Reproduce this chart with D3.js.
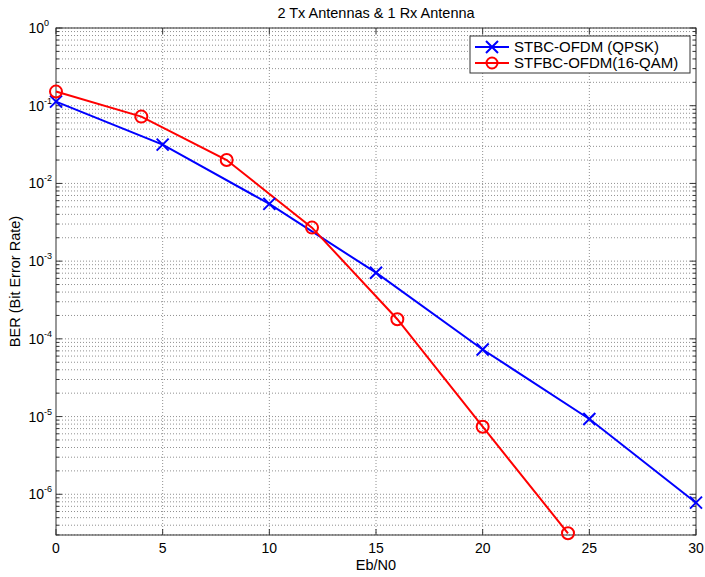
<!DOCTYPE html>
<html><head><meta charset="utf-8">
<script src="https://cdn.jsdelivr.net/npm/d3@7"></script>
<style>body{margin:0;background:#fff;} text{font-family:Arial,"Liberation Sans",sans-serif;}</style>
</head><body>
<svg id="chart" width="705" height="577"></svg>
<script>
const title = "2 Tx Antennas & 1 Rx Antenna";
const xLabel = "Eb/N0";
const yLabel = "BER (Bit Error Rate)";
const qpskX = [0, 5, 10, 15, 20, 25, 30];
const qpskY = [0.113, 0.0316, 0.00545, 7.1e-4, 7.3e-5, 9.3e-6, 7.8e-7];
const qamX = [0, 4, 8, 12, 16, 20, 24];
const qamY = [0.152, 0.0724, 0.0200, 0.0027, 1.79e-4, 7.4e-6, 3.15e-7];
const xTicks = [0, 5, 10, 15, 20, 25, 30];
const yExponents = [0, -1, -2, -3, -4, -5, -6];
const seriesNames = ["STBC-OFDM (QPSK)", "STFBC-OFDM(16-QAM)"];

const svg = d3.select("#chart");
const L = 56, R = 696, T = 28, B = 535;
const x = d3.scaleLinear().domain([0, 30]).range([L, R]);
const yMin = Math.pow(10, -6.524);
const y = d3.scaleLog().domain([yMin, 1]).range([B, T]);

const minors = [];
for (let e = -7; e <= 0; e++) for (let m = 1; m <= 9; m++) {
  const v = m * Math.pow(10, e);
  if (v >= yMin && v <= 1) minors.push({v, major: m === 1});
}
const g = svg.append("g");
g.selectAll(".hg").data(minors).join("line")
  .attr("x1", L).attr("x2", R).attr("y1", d => y(d.v)).attr("y2", d => y(d.v))
  .attr("stroke", "#909090").attr("stroke-width", 1).attr("stroke-dasharray", "1,2");
g.selectAll(".vg").data(xTicks.slice(1, -1)).join("line")
  .attr("x1", d => x(d)).attr("x2", d => x(d)).attr("y1", T).attr("y2", B)
  .attr("stroke", "#909090").attr("stroke-width", 1).attr("stroke-dasharray", "1,2");

svg.append("rect").attr("x", L).attr("y", T).attr("width", R - L).attr("height", B - T)
  .attr("fill", "none").attr("stroke", "#333").attr("stroke-width", 1);

const tk = svg.append("g").attr("stroke", "#333").attr("stroke-width", 1);
minors.forEach(d => {
  const len = d.major ? 6 : 3;
  const yy = y(d.v);
  tk.append("line").attr("x1", L).attr("x2", L + len).attr("y1", yy).attr("y2", yy);
  tk.append("line").attr("x1", R).attr("x2", R - len).attr("y1", yy).attr("y2", yy);
});
xTicks.forEach(d => {
  tk.append("line").attr("x1", x(d)).attr("x2", x(d)).attr("y1", B).attr("y2", B - 6);
  tk.append("line").attr("x1", x(d)).attr("x2", x(d)).attr("y1", T).attr("y2", T + 6);
});

svg.append("g").selectAll("text").data(xTicks).join("text")
  .attr("x", d => x(d)).attr("y", B + 18).attr("text-anchor", "middle")
  .attr("font-size", 14).attr("fill", "#000").text(d => d);

const yl = svg.append("g").selectAll("g").data(yExponents).join("g")
  .attr("transform", d => `translate(${L - 12},${y(Math.pow(10, d)) + 5})`);
yl.append("text").attr("text-anchor", "end").attr("font-size", 14).attr("fill", "#000").text("10");
yl.append("text").attr("x", 0).attr("y", -7).attr("font-size", 9).attr("fill", "#000").text(d => d);

svg.append("text").attr("x", (L + R) / 2).attr("y", 18).attr("text-anchor", "middle")
  .attr("font-size", 14.5).text(title);
svg.append("text").attr("x", (L + R) / 2).attr("y", 570).attr("text-anchor", "middle")
  .attr("font-size", 14.5).text(xLabel);
svg.append("text").attr("transform", `translate(20,${(T + B) / 2}) rotate(-90)`)
  .attr("text-anchor", "middle").attr("font-size", 14.5).text(yLabel);

const line = d3.line().x(d => x(d[0])).y(d => y(d[1]));
const qpsk = qpskX.map((v, i) => [v, qpskY[i]]);
const qam = qamX.map((v, i) => [v, qamY[i]]);
const blue = "#0000ff", red = "#ff0000";

svg.append("path").datum(qpsk).attr("d", line).attr("fill", "none").attr("stroke", blue).attr("stroke-width", 2);
svg.append("path").datum(qam).attr("d", line).attr("fill", "none").attr("stroke", red).attr("stroke-width", 2);

function cross(sel, cx, cy, s, col) {
  sel.append("path").attr("d", `M${cx - s},${cy - s}L${cx + s},${cy + s}M${cx - s},${cy + s}L${cx + s},${cy - s}`)
    .attr("stroke", col).attr("stroke-width", 2).attr("fill", "none");
}
const mk = svg.append("g");
qpsk.forEach(d => cross(mk, x(d[0]), y(d[1]), 6, blue));
qam.forEach(d => mk.append("circle").attr("cx", x(d[0])).attr("cy", y(d[1])).attr("r", 6)
  .attr("fill", "none").attr("stroke", red).attr("stroke-width", 2));

const lg = svg.append("g");
lg.append("rect").attr("x", 470).attr("y", 36).attr("width", 220).attr("height", 37)
  .attr("fill", "#fff").attr("stroke", "#333").attr("stroke-width", 1);
const ly = [47, 63];
[blue, red].forEach((c, i) => {
  lg.append("line").attr("x1", 475).attr("x2", 509).attr("y1", ly[i]).attr("y2", ly[i]).attr("stroke", c).attr("stroke-width", 2);
  if (i === 0) cross(lg, 492, ly[i], 6, c);
  else lg.append("circle").attr("cx", 492).attr("cy", ly[i]).attr("r", 5.5).attr("fill", "none").attr("stroke", c).attr("stroke-width", 2);
  lg.append("text").attr("x", 514).attr("y", ly[i] + 5).attr("font-size", 15).text(seriesNames[i]);
});
</script>
</body></html>
